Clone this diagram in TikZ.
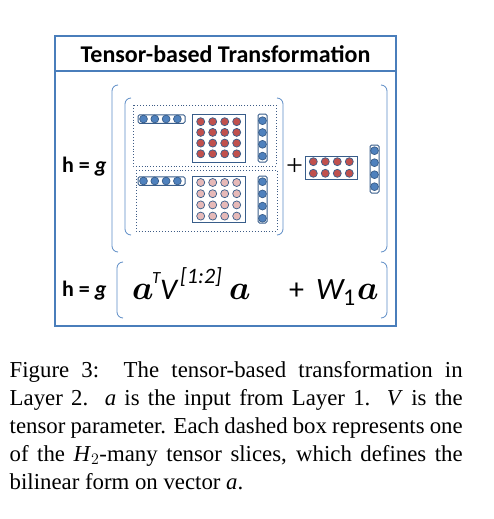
\RequirePackage{fix-cm}
\documentclass[tikz,border=0pt]{standalone}
\usepackage{amsmath,bm}
\usepackage{fontspec}
\setmainfont{Liberation Serif}
\newfontfamily\calibri{Carlito}
\usetikzlibrary{calc, positioning}
\definecolor{framec}{HTML}{4A7EBB}
\definecolor{brkc}{HTML}{5B8BC5}
\definecolor{dotc}{HTML}{3E5C86}
\definecolor{vecc}{HTML}{385D8A}
\definecolor{bluec}{HTML}{4F81BD}
\definecolor{redc}{HTML}{C0504D}
\definecolor{pinkc}{HTML}{E6B9B8}
\tikzset{
  % Outer frame
  frame/.style={draw=framec, line width=1.1pt},
  % Curly-ended brackets
  brk/.style={draw=brkc, line width=0.8pt},
  % Dashed slice box
  slice/.style={draw=dotc, dotted, line width=0.9pt},
  % Vector box
  vbox/.style={draw=vecc, fill=white, line width=1pt, rounded corners=1.5pt,
    inner sep=0pt},
  % Matrix box
  mbox/.style={vbox, rounded corners=0pt},
  % Entries
  dot/.style={draw=vecc, line width=0.7pt},
  bdot/.style={dot, fill=bluec},
  rdot/.style={dot, fill=redc},
  pdot/.style={dot, fill=pinkc},
  % Texts
  hg/.style={font=\calibri\bfseries\fontsize{22}{26}\selectfont, inner sep=0pt,
    anchor=base west},
  eqa/.style={font=\fontsize{34}{38}\selectfont, inner sep=0pt, anchor=base west},
  eqc/.style={font=\calibri\itshape\fontsize{30}{32}\selectfont, inner sep=0pt,
    anchor=base west},
  eqs/.style={font=\calibri\itshape\fontsize{22}{24}\selectfont, inner sep=0pt,
    anchor=base west},
}
\newcommand{\lbrk}[3]{% x, top, bottom
  \draw[brk] (#1+6,#2) to[out=180,in=90] (#1,#2+6) -- (#1,#3-6)
    to[out=-90,in=180] (#1+6,#3);}
\newcommand{\rbrk}[3]{%
  \draw[brk] (#1-6,#2) to[out=0,in=90] (#1,#2+6) -- (#1,#3-6)
    to[out=-90,in=0] (#1-6,#3);}

\begin{document}
\begin{tikzpicture}[x=1pt, y=-1pt]
  \useasboundingbox (0,0) rectangle (493,519);

  % frame and title
  \draw[frame] (55,36) rectangle (396,326);
  \draw[frame] (55,71) -- (396,71);
  \node[inner sep=0pt, anchor=base, font=\calibri\bfseries\fontsize{24}{28}\selectfont]
    (title) at (225.5,63) {Tensor-based Transformation};

  % first row
  \node[hg] (hg1) at (62,172) {h = \textit{g}};
  \lbrk{112}{85}{252}
  \rbrk{387}{85}{252}
  \lbrk{125}{98}{235}
  \rbrk{283}{98}{235}

  % slices
  \draw[slice] (133,105) rectangle (276,166);
  \draw[slice] (136,170) rectangle (277,231);

  % upper slice
  \node[vbox, minimum width=47pt, minimum height=8.5pt] (ra) at (161.5,119) {};
  \foreach \i in {0,...,3}
    \draw[bdot] (143.5+11.3*\i,119) circle (3.9);
  \node[mbox, minimum width=53pt, minimum height=48pt] (va) at (218.5,138) {};
  \foreach \i in {0,...,3}
    \foreach \j in {0,...,3}
      \draw[rdot] (200.7+12*\i,121.7+10.7*\j) circle (4);
  \node[vbox, minimum width=9pt, minimum height=48pt] (ca) at (262.5,138) {};
  \foreach \j in {0,...,3}
    \draw[bdot] (262.5,120.7+11.8*\j) circle (3.9);

  % lower slice
  \node[vbox, minimum width=47pt, minimum height=8.5pt] (rb) at (161.5,181) {};
  \foreach \i in {0,...,3}
    \draw[bdot] (143.5+11.3*\i,181) circle (3.9);
  \node[mbox, minimum width=53pt, minimum height=46pt] (vb) at (218.5,199.5) {};
  \foreach \i in {0,...,3}
    \foreach \j in {0,...,3}
      \draw[pdot] (200.7+12*\i,182.5+11.2*\j) circle (4);
  \node[vbox, minimum width=9pt, minimum height=47pt] (cb) at (262.5,199.5) {};
  \foreach \j in {0,...,3}
    \draw[bdot] (262.5,181.7+12.2*\j) circle (3.9);

  % linear part
  \node[inner sep=0pt, font=\fontsize{30}{30}\selectfont] (plus) at (294.5,167) {+};
  \node[mbox, minimum width=52pt, minimum height=23pt] (w) at (331,167.5) {};
  \foreach \i in {0,...,3}
    \foreach \j in {0,1}
      \draw[rdot] (313.3+12*\i,161.7+11.6*\j) circle (4);
  \node[vbox, minimum width=9pt, minimum height=48pt] (cw) at (374.5,169) {};
  \foreach \j in {0,...,3}
    \draw[bdot] (374.5,150.7+12*\j) circle (3.9);

  % second row
  \node[hg] (hg2) at (62,296) {h = \textit{g}};
  \lbrk{117}{262}{318}
  \rbrk{387}{262}{318}
  \node[eqa] (a1) at (132,299) {$\bm{a}$};
  \node[eqs, font=\calibri\itshape\fontsize{17}{20}\selectfont] (t1) at (152,283) {T};
  \node[eqc] (v1) at (160,299) {V};
  \node[eqs] (s1) at (180,283) {[1:2]};
  \node[eqa] (a2) at (229,299) {$\bm{a}$};
  \node[eqc, font=\calibri\fontsize{30}{34}\selectfont] (p1) at (289,299) {+};
  \node[eqc, font=\calibri\itshape\fontsize{31}{34}\selectfont] (w1) at (316,299) {W};
  \node[eqs, font=\calibri\fontsize{24}{26}\selectfont] (o1) at (343,305) {1};
  \node[eqa] (a3) at (357,299) {$\bm{a}$};

  % caption
  \node[inner sep=0pt, anchor=north west, text width=453pt, align=justify,
    font=\fontsize{22.8}{28}\selectfont] (cap) at (9.5,361)
    {Figure 3:\ \ The tensor-based transformation in\linebreak
     Layer 2.\ \ \textit{a} is the input from Layer 1.\ \ \textit{V} is the\linebreak
     tensor parameter. Each dashed box represents one\linebreak
     of the \textit{H}$_2$-many tensor slices, which defines the\linebreak
     bilinear form on vector \textit{a}.};
\end{tikzpicture}
\end{document}
